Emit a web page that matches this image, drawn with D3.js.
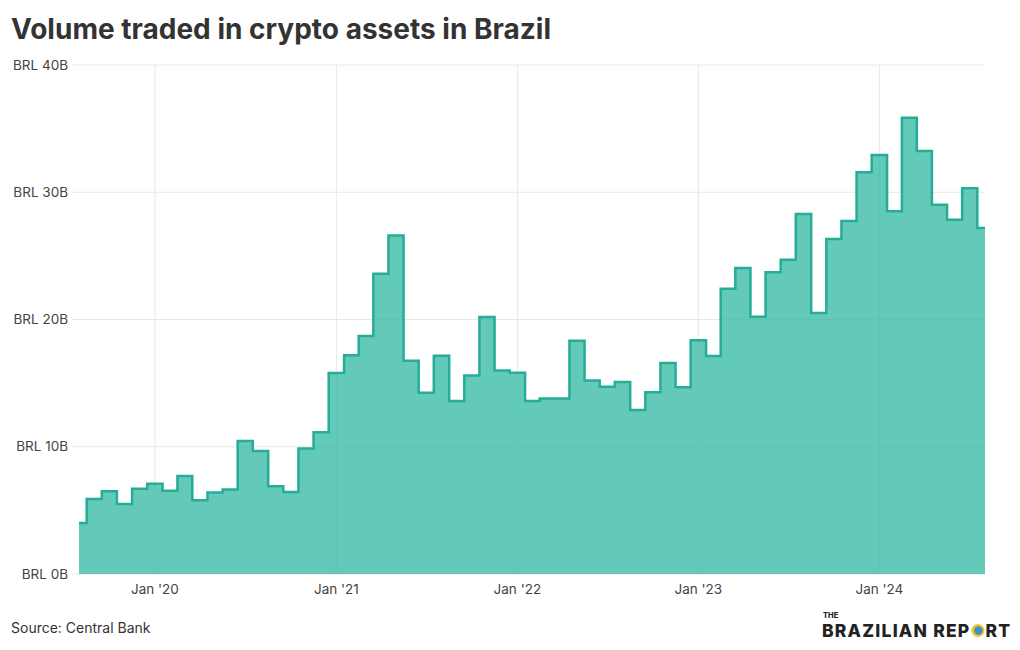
<!DOCTYPE html>
<html>
<head>
<meta charset="utf-8">
<script src="https://cdn.jsdelivr.net/npm/d3@7"></script>
<style>
  body { margin: 0; background: #fff; }
  svg { display: block; font-family: Inter, "Noto Sans", sans-serif; }
</style>
</head>
<body>
<svg id="chart" width="1020" height="650"></svg>
<script>
// Monthly volume, BRL billions, Aug 2019 – Aug 2024
const startMonth = "2019-08-01";
const values = [
  4.0, 5.9, 6.5, 5.5, 6.7,
  7.1, 6.55, 7.7, 5.8, 6.4, 6.65, 10.45, 9.67, 6.9, 6.45, 9.87, 11.13,
  15.8, 17.2, 18.7, 23.6, 26.6, 16.75, 14.25, 17.15, 13.6, 15.6, 20.2, 16.0,
  15.82, 13.6, 13.8, 13.8, 18.33, 15.2, 14.72, 15.09, 12.89, 14.28, 16.58, 14.67,
  18.36, 17.13, 22.42, 24.05, 20.22, 23.71, 24.7, 28.29, 20.51, 26.33, 27.74, 31.57,
  32.93, 28.5, 35.86, 33.24, 29.02, 27.84, 30.31, 27.19
];
const yTicks = [0, 10, 20, 30, 40];
const xTickDates = ["2020-01-01", "2021-01-01", "2022-01-01", "2023-01-01", "2024-01-01"];
const xTickLabels = ["Jan '20", "Jan '21", "Jan '22", "Jan '23", "Jan '24"];

const parse = d3.utcParse("%Y-%m-%d");
const start = parse(startMonth);
const data = values.map((v, i) => ({ date: d3.utcMonth.offset(start, i), value: v }));

const svg = d3.select("#chart");
const margin = { left: 79, right: 35, top: 65, bottom: 76 };
const W = 1020, H = 650;

const x = d3.scaleUtc()
  .domain(d3.extent(data, d => d.date))
  .range([margin.left, W - margin.right]);
const y = d3.scaleLinear().domain([0, 40]).range([H - margin.bottom, margin.top]);

// Title
svg.append("text")
  .attr("x", 11).attr("y", 39)
  .attr("font-size", 28).attr("font-weight", 700)
  .attr("fill", "#333")
  .text("Volume traded in crypto assets in Brazil");

// Grid
const grid = svg.append("g");
grid.selectAll("line.h").data(yTicks).join("line")
  .attr("x1", 72).attr("x2", W - margin.right)
  .attr("y1", d => y(d)).attr("y2", d => y(d))
  .attr("stroke", "#e8e8e8").attr("stroke-width", 1);
grid.selectAll("line.v").data(xTickDates).join("line")
  .attr("x1", d => x(parse(d))).attr("x2", d => x(parse(d)))
  .attr("y1", y(40)).attr("y2", y(0))
  .attr("stroke", "#e8e8e8").attr("stroke-width", 1);

// Area + line
const area = d3.area().curve(d3.curveStep)
  .x(d => x(d.date)).y0(y(0)).y1(d => y(d.value));
const line = d3.line().curve(d3.curveStep)
  .x(d => x(d.date)).y(d => y(d.value));

svg.append("path").datum(data)
  .attr("d", area)
  .attr("fill", "#2fb8a2").attr("fill-opacity", 0.75);
svg.append("path").datum(data)
  .attr("d", line)
  .attr("fill", "none")
  .attr("stroke", "#26ad97").attr("stroke-width", 2.5)
  .attr("stroke-linejoin", "miter");

// Y axis labels
svg.append("g").selectAll("text").data(yTicks).join("text")
  .attr("x", 68).attr("y", d => y(d)).attr("dy", "0.35em")
  .attr("text-anchor", "end").attr("font-size", 13.5).attr("fill", "#444")
  .text(d => `BRL ${d}B`);

// X axis labels
svg.append("g").selectAll("text").data(xTickDates).join("text")
  .attr("x", d => x(parse(d))).attr("y", 594)
  .attr("text-anchor", "middle").attr("font-size", 13.5).attr("fill", "#444")
  .text((d, i) => xTickLabels[i]);

// Source
svg.append("text")
  .attr("x", 11).attr("y", 633)
  .attr("font-size", 14).attr("fill", "#333")
  .text("Source: Central Bank");

// Logo
const logo = svg.append("g").attr("transform", "translate(822,0)");
logo.append("text").attr("x", 1).attr("y", 617.5)
  .attr("font-size", 7.5).attr("font-weight", 800).attr("fill", "#222").text("THE");
const big = logo.append("text").attr("x", 0).attr("y", 637)
  .attr("font-size", 17.5).attr("font-weight", 800).attr("fill", "#222")
  .attr("letter-spacing", 1.2);
const t1 = big.append("tspan").text("BRAZILIAN REP");
const w1 = t1.node().getComputedTextLength();
const gap = 15;
big.append("tspan").attr("dx", gap).text("RT");
const cx = w1 + gap / 2;
logo.append("circle").attr("cx", cx).attr("cy", 630.5).attr("r", 6.5).attr("fill", "#f5c518");
logo.append("circle").attr("cx", cx + 0.5).attr("cy", 630.5).attr("r", 4.2).attr("fill", "#3a8fd6");
</script>
</body>
</html>
